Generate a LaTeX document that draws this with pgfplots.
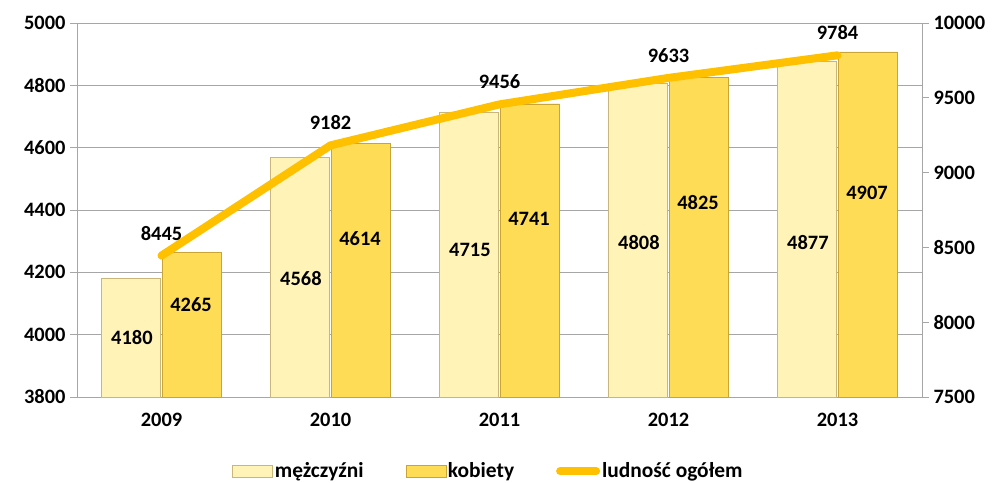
\documentclass[border=0pt]{standalone}
\usepackage{pgfplots}
\pgfplotsset{compat=1.18}
\usepackage{fontspec}
\setmainfont{Carlito}
\definecolor{gridgray}{HTML}{A6A6A6}
\definecolor{menfill}{HTML}{FFF3B8}
\definecolor{menborder}{HTML}{C9B67A}
\definecolor{womfill}{HTML}{FFDC55}
\definecolor{womborder}{HTML}{C9A437}
\definecolor{linegold}{HTML}{FFC000}

\begin{document}
\begin{tikzpicture}[font=\fontsize{20.5}{24}\selectfont\bfseries]
\begin{axis}[
  scale only axis, width=845bp, height=374bp,
  xmin=-0.5, xmax=4.5, ymin=3800, ymax=5000,
  xtick={0,1,2,3,4}, xticklabels={2009,2010,2011,2012,2013},
  major x tick style={draw=none},
  extra x ticks={0.5,1.5,2.5,3.5}, extra x tick labels={},
  extra x tick style={tick style={draw=gridgray,thick}, major tick length=6bp, tick align=outside, grid=none},
  ytick={3800,4000,...,5000},
  ymajorgrids, grid style={gridgray, thick},
  axis line style={gridgray, thick},
  axis x line*=bottom, axis y line*=left,
  y tick style={gridgray, thick}, tick align=outside, major tick length=7bp,
  yticklabel style={/pgf/number format/1000 sep={}, xshift=-1bp},
  xticklabel style={yshift=-6bp},
  /pgf/number format/assume math mode=true,
  ybar, bar width=0.35, bar shift auto,
  legend style={at={(0.487,-0.165)}, anchor=north, draw=none, legend columns=3,
    font=\fontsize{21.5}{24}\selectfont\bfseries,
    /tikz/every even column/.append style={column sep=40bp}},
  legend image code/.code={\draw[#1] (0bp,-6bp) rectangle (40bp,6bp);},
  clip=false,
]
\addplot[ybar, draw=menborder, fill=menfill]
  coordinates {(0,4180)(1,4568)(2,4715)(3,4808)(4,4877)};
\addplot[ybar, draw=womborder, fill=womfill]
  coordinates {(0,4265)(1,4614)(2,4741)(3,4825)(4,4907)};
\addlegendentry{mężczyźni}
\addlegendentry{kobiety}
\addlegendimage{legend image code/.code={\draw[linegold, line width=8bp, line cap=round] (0bp,0bp) -- (36bp,0bp);}}
\addlegendentry{ludność ogółem}
% bar value labels
\node at (axis cs:-0.175,3990) {4180};
\node at (axis cs:0.175,4095) {4265};
\node at (axis cs:0.825,4180) {4568};
\node at (axis cs:1.175,4307) {4614};
\node at (axis cs:1.825,4272) {4715};
\node at (axis cs:2.175,4372) {4741};
\node at (axis cs:2.825,4295) {4808};
\node at (axis cs:3.175,4423) {4825};
\node at (axis cs:3.825,4295) {4877};
\node at (axis cs:4.175,4455) {4907};
\coordinate (bl) at (rel axis cs:0,0);
\coordinate (tr) at (rel axis cs:1,1);
\end{axis}
\begin{axis}[
  scale only axis, width=845bp, height=374bp,
  xmin=-0.5, xmax=4.5, ymin=7500, ymax=10000,
  axis x line=none, axis y line*=right,
  ytick={7500,8000,...,10000}, scaled y ticks=false,
  axis line style={gridgray, thick},
  y tick style={gridgray, thick}, tick align=outside, major tick length=7bp,
  yticklabel style={/pgf/number format/1000 sep={}, xshift=1bp},
  /pgf/number format/assume math mode=true,
  /pgf/number format/1000 sep={},
  clip=false,
  nodes near coords, every node near coord/.append style={anchor=south, yshift=8bp, text=black},
]
\addplot[linegold, line width=8bp, line cap=round, line join=round, mark=none]
  coordinates {(0,8445)(1,9182)(2,9456)(3,9633)(4,9784)};
\end{axis}
\pgfresetboundingbox
\path ([shift={(-77bp,-86bp)}]bl) rectangle ([shift={(76bp,23bp)}]tr);
\end{tikzpicture}
\end{document}
